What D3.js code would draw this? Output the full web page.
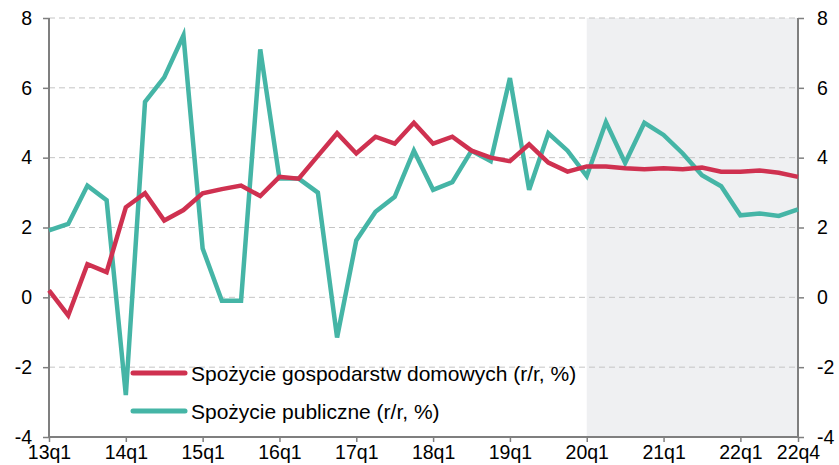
<!DOCTYPE html>
<html>
<head>
<meta charset="utf-8">
<script src="https://cdn.jsdelivr.net/npm/d3@7"></script>
<style>
  body { margin: 0; background: #fff; }
  svg { display: block; font-family: "Liberation Sans", Arial, sans-serif; }
</style>
</head>
<body>
<svg id="chart" width="839" height="465"></svg>
<script>
// quarters 13q1 .. 22q4
var years = ["13", "14", "15", "16", "17", "18", "19", "20", "21", "22"];
var quarters = [];
years.forEach(function(y) { for (var q = 1; q <= 4; q++) quarters.push(y + "q" + q); });

var tickLabels = ["13q1", "14q1", "15q1", "16q1", "17q1", "18q1", "19q1", "20q1", "21q1", "22q1", "22q4"];
var yTicks = [-4, -2, 0, 2, 4, 6, 8];

var households = [0.2, -0.52, 0.95, 0.72, 2.58, 2.98, 2.2, 2.5, 2.98, 3.1,
                  3.2, 2.9, 3.45, 3.4, 4.05, 4.7, 4.12, 4.6, 4.4, 5.0,
                  4.4, 4.6, 4.2, 4.0, 3.9, 4.38, 3.86, 3.6, 3.75, 3.75,
                  3.7, 3.67, 3.7, 3.67, 3.72, 3.6, 3.6, 3.63, 3.57, 3.45];
var publicCons = [1.92, 2.1, 3.2, 2.78, -2.8, 5.6, 6.3, 7.5, 1.4, -0.1,
                  -0.1, 7.1, 3.4, 3.4, 3.0, -1.15, 1.63, 2.45, 2.88, 4.2,
                  3.08, 3.3, 4.2, 3.9, 6.28, 3.08, 4.7, 4.2, 3.47, 5.02,
                  3.85, 5.0, 4.65, 4.12, 3.5, 3.18, 2.35, 2.4, 2.33, 2.52];

var seriesNames = ["Spożycie gospodarstw domowych (r/r, %)", "Spożycie publiczne (r/r, %)"];
var seriesColors = ["#cf3150", "#45b5a6"];
var shadeFrom = "20q1";

var margin = {top: 18, right: 41, bottom: 28, left: 49},
    width = 839 - margin.left - margin.right,
    height = 465 - margin.top - margin.bottom;

var svg = d3.select("#chart");
var g = svg.append("g")
    .attr("transform", "translate(" + margin.left + "," + margin.top + ")");

var x = d3.scalePoint()
    .domain(quarters)
    .range([0, width]);

var y = d3.scaleLinear()
    .domain([-4, 8])
    .range([height, 0]);

// forecast shading
g.append("rect")
    .attr("x", x(shadeFrom))
    .attr("y", 0)
    .attr("width", x(quarters[quarters.length - 1]) - x(shadeFrom))
    .attr("height", height)
    .attr("fill", "#eff0f2");

// dashed grid
g.selectAll(".grid")
    .data(yTicks.filter(function(d) { return d > -4; }))
    .enter()
    .append("line")
    .attr("x1", 0)
    .attr("x2", width)
    .attr("y1", function(d) { return y(d); })
    .attr("y2", function(d) { return y(d); })
    .attr("stroke", "#c4c4c4")
    .attr("stroke-width", 1)
    .attr("stroke-dasharray", "6,4");

// axes (plain hyphen for negatives, like the original)
var fmt = function(d) { return String(d); };
var leftAxis = g.append("g")
    .call(d3.axisLeft(y).tickValues(yTicks).tickSize(6).tickPadding(11).tickFormat(fmt));
var rightAxis = g.append("g")
    .attr("transform", "translate(" + width + ",0)")
    .call(d3.axisRight(y).tickValues(yTicks).tickSize(6).tickPadding(13).tickFormat(fmt));
var bottomAxis = g.append("g")
    .attr("transform", "translate(0," + height + ")")
    .call(d3.axisBottom(x).tickValues(tickLabels).tickSize(5).tickPadding(3));

[leftAxis, rightAxis, bottomAxis].forEach(function(a) {
    a.select(".domain").attr("stroke", "#7f7f7f").attr("stroke-width", 2);
    a.selectAll(".tick line").attr("stroke", "#7f7f7f").attr("stroke-width", 1.5);
    a.selectAll("text").attr("fill", "#000").style("font-size", "19.5px")
        .style("font-family", "'Liberation Sans', Arial, sans-serif");
});
leftAxis.select(".domain").attr("d", "M0," + height + "V0");
rightAxis.select(".domain").attr("d", "M0," + height + "V0");
bottomAxis.select(".domain").attr("d", "M0,0H" + width);

// lines
var line = d3.line()
    .x(function(d, i) { return x(quarters[i]); })
    .y(function(d) { return y(d); });

[publicCons, households].forEach(function(s, k) {
    var idx = k === 0 ? 1 : 0;
    g.append("path")
        .datum(s)
        .attr("fill", "none")
        .attr("stroke", seriesColors[idx])
        .attr("stroke-width", 4.5)
        .attr("stroke-linejoin", "miter")
        .attr("d", line);
});

// legend
var legend = g.append("g").attr("transform", "translate(84," + (373 - margin.top) + ")");
seriesNames.forEach(function(name, i) {
    var row = legend.append("g").attr("transform", "translate(0," + (i * 38) + ")");
    row.append("line")
        .attr("x1", 0).attr("x2", 52)
        .attr("y1", 0).attr("y2", 0)
        .attr("stroke", seriesColors[i])
        .attr("stroke-width", 5)
        .attr("stroke-linecap", "round");
    row.append("text")
        .attr("x", 58)
        .attr("y", 7.5)
        .style("font-size", "21px")
        .text(name);
});
</script>
</body>
</html>
